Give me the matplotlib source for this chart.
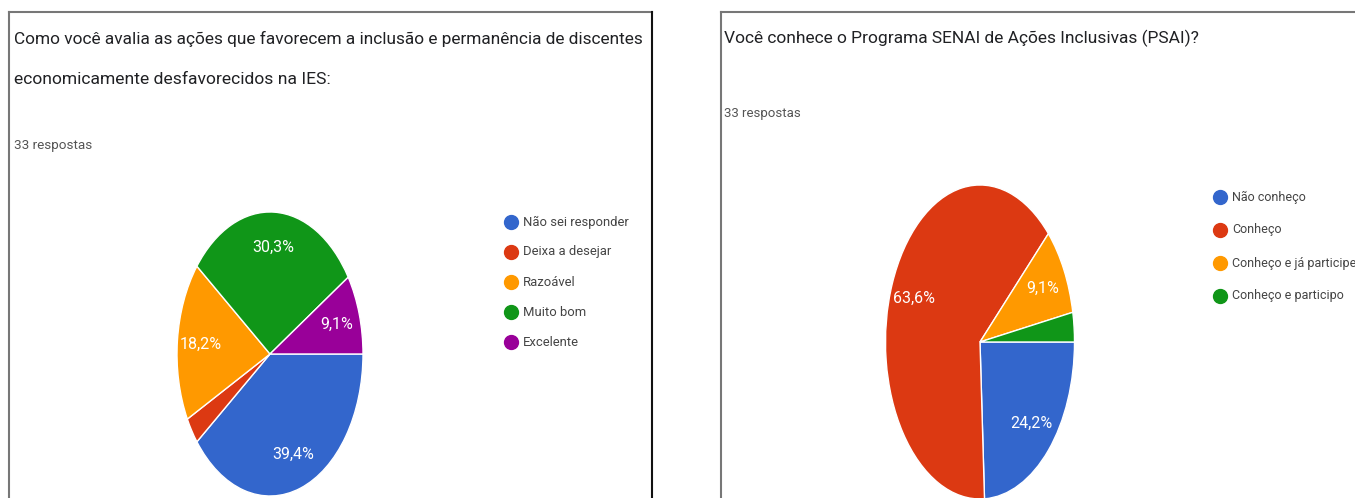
import matplotlib
matplotlib.use("Agg")
import matplotlib.pyplot as plt
from matplotlib.lines import Line2D

W, H = 1355, 498

plt.rcParams['font.family'] = ['Liberation Sans Narrow', 'Roboto', 'DejaVu Sans']

# left chart
left_title = ["Como você avalia as ações que favorecem a inclusão e permanência de discentes",
              "economicamente desfavorecidos na IES:"]
left_labels = ["Não sei responder", "Deixa a desejar", "Razoável", "Muito bom", "Excelente"]
left_counts = [13, 1, 6, 10, 3]
left_colors = ["#3366cc", "#dc3912", "#ff9900", "#109618", "#990099"]

# right chart
right_title = "Você conhece o Programa SENAI de Ações Inclusivas (PSAI)?"
right_labels = ["Não conheço", "Conheço", "Conheço e já participei", "Conheço e participo"]
right_counts = [8, 21, 3, 1]
right_colors = ["#3366cc", "#dc3912", "#ff9900", "#109618"]

n_resp = "33 respostas"

fig = plt.figure(figsize=(W / 100, H / 100), dpi=100)
fig.patch.set_facecolor("white")
renderer = fig.canvas.get_renderer()


def fx(x):
    return x / W


def fy(y):
    return 1 - y / H


def fit_text(x, y, s, width, color, size0=12):
    t = fig.text(fx(x), fy(y), s, fontsize=size0, ha="left", va="center", color=color)
    bw = t.get_window_extent(renderer).width
    t.set_fontsize(size0 * width / bw)
    return t


def line(x0, y0, x1, y1, color, lw=1.5):
    fig.add_artist(Line2D([fx(x0), fx(x1)], [fy(y0), fy(y1)], color=color, lw=lw,
                          transform=fig.transFigure))


def pct(p):
    return f"{p:.1f}%".replace(".", ",") if p > 5 else ""


def draw_pie(counts, colors, cx, cy, rx, ry):
    ax = fig.add_axes([fx(cx - rx), fy(cy + ry), 2 * rx / W, 2 * ry / H])
    wedges, texts, autotexts = ax.pie(counts, colors=colors, startangle=0, counterclock=False,
                                      autopct=pct, pctdistance=0.75,
                                      wedgeprops=dict(edgecolor="white", linewidth=1))
    for t in autotexts:
        t.set_color("white")
        t.set_fontsize(11.5)
    ax.set_aspect("auto")
    ax.set_xlim(-1, 1)
    ax.set_ylim(-1, 1)
    ax.axis("off")
    return ax


def legend(labels, colors, x, y0, dy, width_first):
    size = None
    for i, (lab, col) in enumerate(zip(labels, colors)):
        y = y0 + i * dy
        fig.add_artist(Line2D([fx(x)], [fy(y)], marker="o", ms=10, color=col, lw=0,
                              transform=fig.transFigure))
        if size is None:
            t = fit_text(x + 12, y, lab, width_first, "#444444")
            size = t.get_fontsize()
        else:
            fig.text(fx(x + 12), fy(y), lab, fontsize=size, ha="left", va="center", color="#444444")


# panel frames
line(9, 12, 652, 12, "#777777")
line(9, 12, 9, 498, "#777777")
line(652, 12, 652, 498, "#111111")
line(721, 12, 1354, 12, "#777777")
line(721, 12, 721, 498, "#777777")

# left panel texts
fit_text(14, 39, left_title[0], 631, "#202124")
fit_text(14, 80, left_title[1], 316, "#202124")
fit_text(14, 146, n_resp, 78, "#555555")

# right panel texts
fit_text(724, 38, right_title, 476, "#202124")
fit_text(724, 113, n_resp, 77, "#555555")

draw_pie(left_counts, left_colors, 270, 354, 93, 142)
draw_pie(right_counts, right_colors, 980, 342, 94.5, 157)

legend(left_labels, left_colors, 511, 222, 30, 105)
legend(right_labels, right_colors, 1220, 197, 33, 74)

fig.savefig("out.png", dpi=100)
